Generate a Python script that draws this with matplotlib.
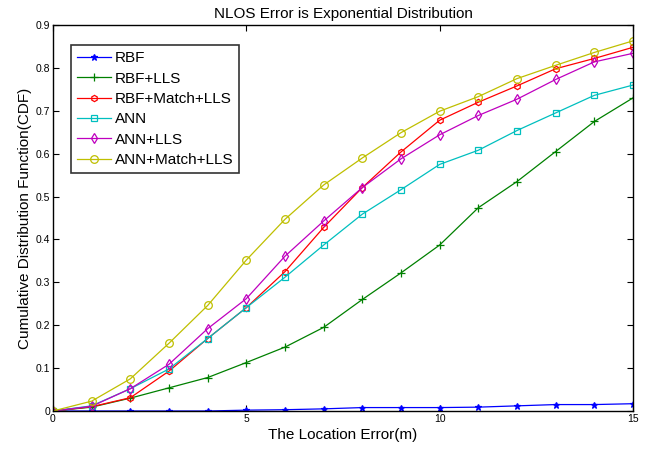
import matplotlib
matplotlib.use("Agg")
import matplotlib.pyplot as plt

plt.rcParams['font.family'] = ['Liberation Sans', 'DejaVu Sans']

x = list(range(16))
rbf = [0, 0, 0, 0, 0, 0.002, 0.003, 0.005, 0.008, 0.008, 0.008, 0.009, 0.012, 0.015, 0.015, 0.017]
rbf_lls = [0, 0.009, 0.030, 0.054, 0.078, 0.113, 0.149, 0.195, 0.260, 0.322, 0.387, 0.474, 0.535, 0.605, 0.675, 0.730]
rbf_match_lls = [0, 0.010, 0.031, 0.093, 0.169, 0.241, 0.325, 0.428, 0.521, 0.604, 0.678, 0.720, 0.758, 0.798, 0.822, 0.848]
ann = [0, 0.012, 0.052, 0.098, 0.169, 0.241, 0.312, 0.387, 0.459, 0.516, 0.575, 0.608, 0.654, 0.695, 0.736, 0.760]
ann_lls = [0, 0.011, 0.052, 0.109, 0.192, 0.262, 0.361, 0.443, 0.521, 0.588, 0.644, 0.689, 0.727, 0.773, 0.814, 0.834]
ann_match_lls = [0, 0.023, 0.075, 0.158, 0.246, 0.352, 0.447, 0.527, 0.590, 0.649, 0.699, 0.733, 0.775, 0.806, 0.836, 0.863]

labels = ['RBF', 'RBF+LLS', 'RBF+Match+LLS', 'ANN', 'ANN+LLS', 'ANN+Match+LLS']
series = [rbf, rbf_lls, rbf_match_lls, ann, ann_lls, ann_match_lls]
colors = ['#0000ff', '#008000', '#ff0000', '#00bfbf', '#bf00bf', '#bfbf00']
markers = ['*', '+', 'h', 's', 'd', 'o']
msizes = [5, 6, 4.5, 5, 5, 5.5]

W, H = 651, 449
fig = plt.figure(figsize=(W / 100, H / 100), dpi=100)
ax = fig.add_axes([53 / W, 1 - 411 / H, (633 - 53) / W, (411 - 25) / H])

for y, lab, c, m, ms in zip(series, labels, colors, markers, msizes):
    ax.plot(x, y, color=c, marker=m, markersize=ms, linewidth=0.9,
            markerfacecolor='none' if m not in ('*', '+') else c,
            markeredgecolor=c, markeredgewidth=0.9, label=lab)

ax.set_xlim(0, 15)
ax.set_ylim(0, 0.9)
ax.set_xticks([0, 5, 10, 15])
ax.set_yticks([i / 10 for i in range(10)])
ax.set_yticklabels(['0'] + ['%.1f' % (i / 10) for i in range(1, 10)])
ax.tick_params(direction='in', top=True, right=True, length=4, width=0.8,
               labelsize=7.5, pad=2)
for s in ax.spines.values():
    s.set_linewidth(1.0)

ax.set_title('NLOS Error is Exponential Distribution', fontsize=11, pad=5)
ax.set_xlabel('The Location Error(m)', fontsize=11, labelpad=3)
ax.set_ylabel('Cumulative Distribution Function(CDF)', fontsize=11, labelpad=3)

leg = ax.legend(loc='upper left', bbox_to_anchor=((71 - 53) / 580, (411 - 45) / 386),
                fontsize=11, frameon=True, fancybox=False, borderaxespad=0,
                handlelength=2.2, handletextpad=0.25, labelspacing=0.42,
                borderpad=0.4, numpoints=1)
leg.get_frame().set_edgecolor('black')
leg.get_frame().set_linewidth(1.2)

fig.savefig('out.png', dpi=100)
